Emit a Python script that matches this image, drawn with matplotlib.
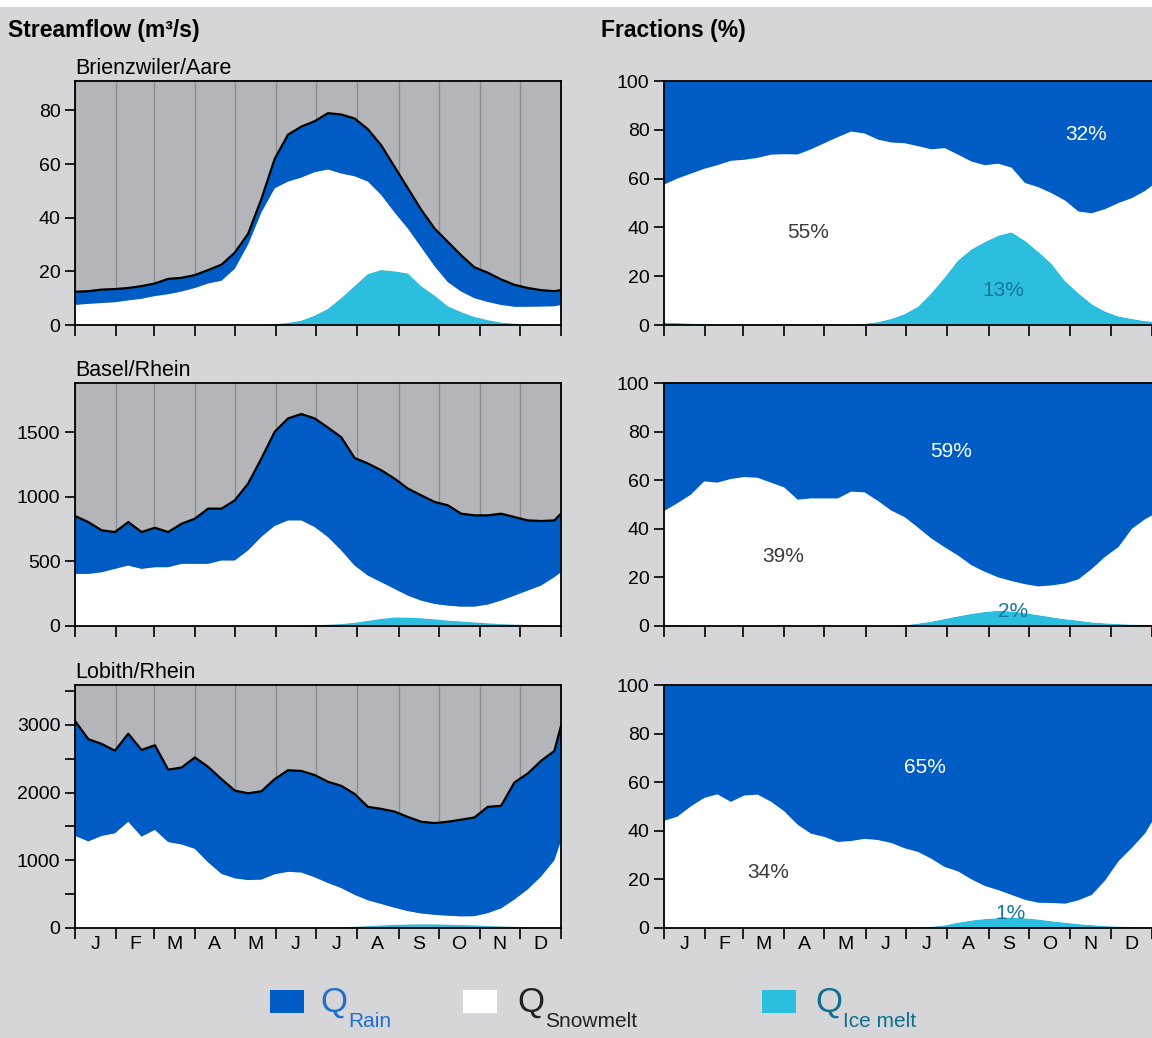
import matplotlib

matplotlib.use("Agg")

import matplotlib.pyplot as plt
from matplotlib.patches import Rectangle
import numpy as np

plt.rcParams["font.family"] = ["Liberation Sans", "DejaVu Sans"]

# day of year for every sample
DAYS = [0, 10, 20, 30, 40, 50, 60, 70, 80, 90, 100, 110, 120, 130, 140, 150, 160, 170, 180,
        190, 200, 210, 220, 230, 240, 250, 260, 270, 280, 290, 300, 310, 320, 330, 340, 350,
        360, 365]
MONTH_STARTS = [0, 31, 59, 90, 120, 151, 181, 212, 243, 273, 304, 334, 365]
MONTH_LABELS = ["J", "F", "M", "A", "M", "J", "J", "A", "S", "O", "N", "D"]

STATION_NAMES = ["Brienzwiler/Aare", "Basel/Rhein", "Lobith/Rhein"]

# streamflow (m3/s)
BRIENZ_TOTAL = [12.4, 12.6, 13.2, 13.4, 13.8, 14.5, 15.5, 17.2, 17.6, 18.6, 20.5, 22.5, 27, 34,
                47, 62, 71, 74, 76, 79, 78.5, 77, 73, 67, 59, 51, 43, 36, 31, 26, 21.5, 19.5,
                17, 15, 13.8, 13, 12.6, 13]
BRIENZ_SNOW = [7.5, 7.9, 8.2, 8.5, 9.2, 9.8, 10.8, 11.5, 12.5, 13.8, 15.5, 16.5, 21, 30, 41.9,
               50.7, 52.7, 53.4, 53.5, 52, 46.5, 41, 34.5, 28, 22, 16.8, 14.5, 11, 9, 7.7, 7,
               6.8, 6.6, 6.3, 6.5, 6.7, 6.9, 7.4]
BRIENZ_ICE = [0, 0, 0, 0, 0, 0, 0, 0, 0, 0, 0, 0, 0, 0, 0.1, 0.3, 0.8, 1.6, 3.5, 6, 10, 14.5,
              19, 20.5, 20, 19.2, 14.5, 11, 7, 4.8, 3, 1.8, 0.9, 0.5, 0.3, 0.2, 0.1, 0.1]

BASEL_TOTAL = [851, 804, 740, 727, 804, 727, 760, 727, 791, 830, 908, 908, 972, 1102, 1296,
               1503, 1606, 1640, 1606, 1535, 1460, 1300, 1257, 1205, 1140, 1063, 1011, 960, 934,
               869, 856, 856, 869, 843, 817, 812, 817, 869]
BASEL_SNOW = [403, 403, 416, 442, 468, 442, 455, 455, 481, 481, 481, 507, 507, 585, 690, 775,
              817, 815, 761, 678, 570, 443, 350, 284, 221, 170, 137, 119, 116, 115, 122, 145,
              182, 224, 266, 308, 375, 414]
BASEL_ICE = [0, 0, 0, 0, 0, 0, 0, 0, 0, 0, 0, 0, 0, 0, 0, 0, 0, 2, 5, 10, 15, 25, 40, 55, 66,
             65, 60, 52, 42, 35, 28, 21, 15, 11, 8, 5, 3, 2]

LOBITH_TOTAL = [3059, 2790, 2720, 2620, 2870, 2630, 2700, 2340, 2370, 2520, 2380, 2200, 2030,
                1990, 2020, 2200, 2330, 2320, 2260, 2160, 2100, 1980, 1790, 1760, 1720, 1640,
                1570, 1550, 1570, 1600, 1633, 1790, 1805, 2150, 2282, 2469, 2616, 2985]
LOBITH_SNOW = [1362, 1280, 1360, 1400, 1570, 1350, 1450, 1270, 1235, 1170, 970, 800, 735, 708,
               715, 795, 830, 820, 750, 660, 580, 472, 382, 317, 254, 198, 160, 141, 132, 128,
               137, 190, 266, 402, 558, 752, 995, 1285]
LOBITH_ICE = [0, 0, 0, 0, 0, 0, 0, 0, 0, 0, 0, 0, 0, 0, 0, 0, 0, 0, 0, 5, 10, 18, 28, 38, 46,
              52, 55, 54, 50, 44, 38, 30, 24, 18, 12, 8, 5, 4]

# fractions (%) of daily streamflow
BRIENZ_SNOW_FRAC = [56.5, 59.2, 61.4, 63.5, 65.2, 67, 67.4, 68.2, 69.5, 69.7, 69.6, 71.7, 74.2,
                    76.7, 79, 78, 74.8, 72.3, 70, 65.8, 59, 53, 43.3, 36, 31.5, 29.5, 26.5,
                    23.7, 26.5, 29, 33, 33.5, 37.3, 42, 46.5, 49.5, 53.4, 55.7]
BRIENZ_ICE_FRAC = [1.0, 0.8, 0.6, 0.5, 0.3, 0.3, 0.3, 0.3, 0.3, 0.3, 0.3, 0.3, 0.3, 0.3, 0.3,
                   0.5, 1.2, 2.5, 4.5, 7.5, 13, 19.5, 26.5, 31, 34, 36.6, 38, 34.5, 30, 25, 18,
                   13, 8.5, 5.5, 3.5, 2.5, 1.6, 1.4]

BASEL_SNOW_FRAC = [46.9, 50.2, 53.8, 59.4, 58.9, 60.4, 61.2, 60.9, 58.9, 56.9, 51.9, 52.4, 52.4,
                   52.4, 55.2, 54.9, 51.4, 47.4, 44.5, 39.5, 34.2, 29.5, 25, 20, 16.5, 13.7,
                   12.5, 11.9, 11.8, 13.1, 14.7, 17, 22, 27.4, 31.7, 39.4, 43.5, 45.1]
BASEL_ICE_FRAC = [0.4, 0.3, 0.2, 0.1, 0.1, 0.1, 0.1, 0.1, 0.1, 0.1, 0.1, 0.1, 0.1, 0.1, 0.1,
                  0.1, 0.1, 0.1, 0.3, 1.0, 1.8, 2.9, 4.0, 5.0, 5.8, 6.3, 6.0, 5.3, 4.5, 3.6,
                  2.8, 2.2, 1.5, 1.1, 0.8, 0.6, 0.5, 0.4]

LOBITH_SNOW_FRAC = [44.1, 45.8, 50, 53.5, 55, 51.9, 54.5, 54.9, 52, 48, 42.5, 38.8, 37.5, 35.4,
                    35.8, 36.7, 36.2, 35, 32.8, 31.1, 28, 24, 21.1, 16.9, 13.6, 11.5, 9.3, 7.6,
                    6.9, 7.5, 7.8, 9.8, 12.4, 18.8, 26.9, 32.6, 38.7, 43.4]
LOBITH_ICE_FRAC = [0, 0, 0, 0, 0, 0, 0, 0, 0, 0, 0, 0, 0, 0, 0, 0, 0, 0, 0, 0.2, 0.5, 1.1, 2.2,
                   3.1, 3.7, 4.1, 4.3, 4.0, 3.5, 2.8, 2.2, 1.6, 1.2, 0.8, 0.6, 0.4, 0.3, 0.3]

# annual shares printed in the fraction panels
RAIN_SHARE = [32, 59, 65]
SNOW_SHARE = [55, 39, 34]
ICE_SHARE = [13, 2, 1]

RAIN_BLUE = "#005cc5"
ICE_CYAN = "#2bbedf"
FIG_GRAY = "#d6d6d8"
PANEL_GRAY = "#b4b5b9"
GRID_GRAY = "#8d8d90"
SHARE_DARK = "#3a3a3a"
SHARE_TEAL = "#15769a"

FIG_W, FIG_H = 1152, 1038


def fig_box(left, top, right, bottom):
    """Convert a pixel box of the reference into figure fractions."""
    return [left / FIG_W, 1 - bottom / FIG_H, (right - left) / FIG_W, (bottom - top) / FIG_H]


ROW_PIXELS = [(81, 325), (383, 626), (685, 928)]
FLOW_YMAX = [91, 1880, 3590]
FLOW_YTICKS = [[0, 20, 40, 60, 80], [0, 500, 1000, 1500], [0, 1000, 2000, 3000]]
FLOW_YMINOR = [[], [], [500, 1500, 2500, 3500]]
# (day, percent) anchor of the rain / snow / ice share labels
SHARE_POS = [
    [(316, 78), (108, 38), (254, 14)],
    [(215, 72), (89, 28.4), (261, 5.8)],
    [(195, 66), (78, 23), (259, 5.8)],
]


def style_month_axis(ax, show_labels):
    mids = [(a + b) / 2 for a, b in zip(MONTH_STARTS[:-1], MONTH_STARTS[1:])]
    ax.set_xlim(0, 365)
    ax.set_xticks(MONTH_STARTS)
    ax.set_xticklabels([])
    ax.set_xticks(mids, minor=True)
    ax.set_xticklabels(MONTH_LABELS if show_labels else [""] * 12, minor=True)
    ax.tick_params(axis="x", which="major", direction="out", length=8, width=1.2)
    ax.tick_params(axis="x", which="minor", length=0, pad=6, labelsize=14)
    ax.tick_params(axis="y", which="both", direction="out", length=7, width=1.2, labelsize=14)


def draw_flow_panel(ax, row, total, snow, ice):
    days = np.array(DAYS)
    total = np.array(total, dtype=float)
    snow = np.array(snow, dtype=float)
    ice = np.array(ice, dtype=float)
    rain = total - snow - ice

    ax.set_facecolor(PANEL_GRAY)
    ax.stackplot(days, ice, snow, rain, colors=[ICE_CYAN, "white", RAIN_BLUE],
                 linewidth=0, zorder=2)
    ax.plot(days, total, color="black", linewidth=1.6, zorder=3)

    ax.set_ylim(0, FLOW_YMAX[row])
    ax.set_yticks(FLOW_YTICKS[row])
    ax.set_yticks(FLOW_YMINOR[row], minor=True)
    style_month_axis(ax, row == 2)
    ax.grid(axis="x", which="major", color=GRID_GRAY, linewidth=1)
    ax.set_axisbelow(True)
    for spine in ax.spines.values():
        spine.set_linewidth(1.3)
        spine.set_zorder(4)
    ax.set_title(STATION_NAMES[row], loc="left", fontsize=15.5, pad=5)


def draw_fraction_panel(ax, row, snow_frac, ice_frac):
    days = np.array(DAYS)
    snow_frac = np.array(snow_frac, dtype=float)
    ice_frac = np.array(ice_frac, dtype=float)
    rain_frac = 100 - snow_frac - ice_frac

    ax.stackplot(days, ice_frac, snow_frac, rain_frac, colors=[ICE_CYAN, "white", RAIN_BLUE],
                 linewidth=0, zorder=2)
    ax.set_ylim(0, 100)
    ax.set_yticks([0, 20, 40, 60, 80, 100])
    style_month_axis(ax, row == 2)
    ax.spines["right"].set_visible(False)
    for name in ["left", "top", "bottom"]:
        ax.spines[name].set_linewidth(1.3)
        ax.spines[name].set_zorder(4)

    shares = [RAIN_SHARE[row], SNOW_SHARE[row], ICE_SHARE[row]]
    colors = ["white", SHARE_DARK, SHARE_TEAL]
    for (x, y), share, color in zip(SHARE_POS[row], shares, colors):
        ax.text(x, y, f"{share}%", color=color, fontsize=15, ha="center", va="center",
                zorder=5)


def draw_legend(fig):
    entries = [
        (RAIN_BLUE, "#1f6fd0", "Rain", 270, 320),
        ("white", "#222222", "Snowmelt", 463, 517),
        (ICE_CYAN, "#0f6f8f", "Ice melt", 762, 815),
    ]
    for face, text_color, sub, box_x, q_x in entries:
        fig.patches.append(Rectangle((box_x / FIG_W, 1 - 1013 / FIG_H), 34 / FIG_W, 23 / FIG_H,
                                     transform=fig.transFigure, facecolor=face,
                                     edgecolor="none"))
        fig.text(q_x / FIG_W, 1 - 1012 / FIG_H, "Q", fontsize=25, color=text_color,
                 ha="left", va="baseline")
        fig.text((q_x + 28) / FIG_W, 1 - 1027 / FIG_H, sub, fontsize=15, color=text_color,
                 ha="left", va="baseline")


def main():
    fig = plt.figure(figsize=(FIG_W / 100, FIG_H / 100), dpi=100, facecolor=FIG_GRAY)
    fig.patches.append(Rectangle((0, 1 - 7 / FIG_H), 1, 7 / FIG_H, transform=fig.transFigure,
                                 facecolor="white", edgecolor="none"))

    flows = [
        (BRIENZ_TOTAL, BRIENZ_SNOW, BRIENZ_ICE),
        (BASEL_TOTAL, BASEL_SNOW, BASEL_ICE),
        (LOBITH_TOTAL, LOBITH_SNOW, LOBITH_ICE),
    ]
    fractions = [
        (BRIENZ_SNOW_FRAC, BRIENZ_ICE_FRAC),
        (BASEL_SNOW_FRAC, BASEL_ICE_FRAC),
        (LOBITH_SNOW_FRAC, LOBITH_ICE_FRAC),
    ]

    for row, (top, bottom) in enumerate(ROW_PIXELS):
        ax_flow = fig.add_axes(fig_box(75, top, 561, bottom))
        draw_flow_panel(ax_flow, row, *flows[row])
        ax_frac = fig.add_axes(fig_box(664, top, 1152, bottom))
        draw_fraction_panel(ax_frac, row, *fractions[row])

    fig.text(8 / FIG_W, 1 - 30 / FIG_H, "Streamflow (m³/s)", fontsize=16.5, fontweight="bold",
             ha="left", va="center")
    fig.text(601 / FIG_W, 1 - 30 / FIG_H, "Fractions (%)", fontsize=16.5, fontweight="bold",
             ha="left", va="center")
    draw_legend(fig)

    fig.savefig("out.png", dpi=100, facecolor=FIG_GRAY)
    plt.close(fig)


if __name__ == "__main__":
    main()
